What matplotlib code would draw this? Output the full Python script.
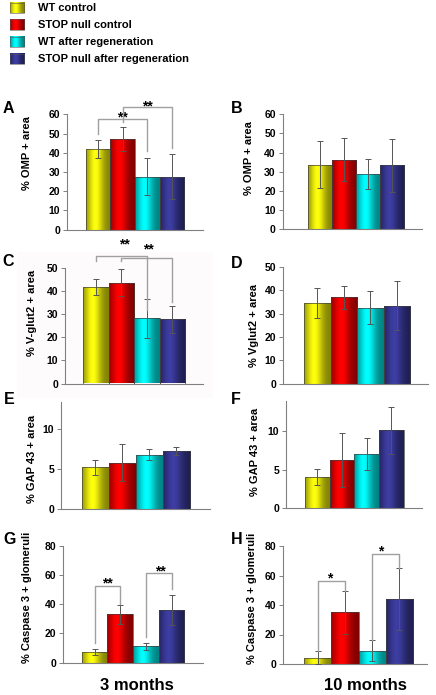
import numpy as np
import matplotlib
matplotlib.use("Agg")
import matplotlib.pyplot as plt
from matplotlib.patches import Rectangle
from matplotlib import transforms

plt.rcParams['font.family'] = ['Liberation Sans', 'DejaVu Sans']
plt.rcParams['font.weight'] = 'bold'

# ---------------- data ----------------
groups = ["WT control", "STOP null control", "WT after regeneration", "STOP null after regeneration"]
bar_colors = [(1.0, 1.0, 0.05), (1.0, 0.0, 0.0), (0.0, 1.0, 1.0), (0.24, 0.24, 0.64)]

omp_3m = [41.8, 47.2, 27.6, 27.6]
omp_3m_err = [4.7, 6.2, 9.7, 11.6]
omp_10m = [33.8, 36.2, 28.8, 33.5]
omp_10m_err = [12.1, 11.2, 7.9, 13.8]
vglut_3m = [41.6, 43.6, 28.1, 27.7]
vglut_3m_err = [3.5, 5.8, 8.6, 5.8]
vglut_10m = [34.7, 37.0, 32.6, 33.3]
vglut_10m_err = [6.4, 4.8, 7.0, 10.5]
gap_3m = [5.2, 5.8, 6.8, 7.24]
gap_3m_err = [1.0, 2.35, 0.7, 0.52]
gap_10m = [4.06, 6.3, 7.07, 10.17]
gap_10m_err = [1.02, 3.5, 2.13, 3.05]
casp_3m = [7.1, 33.1, 11.2, 36.0]
casp_3m_err = [2.05, 6.6, 2.25, 10.2]
casp_10m = [4.3, 35.0, 9.0, 43.9]
casp_10m_err = [4.3, 14.4, 7.2, 21.0]

ylabels = ["% OMP + area", "% OMP + area", "% V-glut2 + area", "% Vglut2 + area",
           "% GAP 43 + area", "% GAP 43 + area", "% Caspase 3 + glomeruli", "% Caspase 3 + glomeruli"]
panel_letters = ["A", "B", "C", "D", "E", "F", "G", "H"]
yticks = [[0, 10, 20, 30, 40, 50, 60]] * 2 + [[0, 10, 20, 30, 40, 50]] * 2 + [[0, 5, 10]] * 2 + [[0, 20, 40, 60, 80]] * 2
ylims = [60, 60, 50, 50, 13.5, 14, 80, 80]
xlabels = ["3 months", "10 months"]

# significance brackets: (panel, bar i, bar j, top, leg_i bottom, leg_j bottom, label, label x, label y)
brackets = [
    (0, 0, 2, 57.7, 50.0, 41.0, "**", 1.0, 59.9),
    (0, 1, 3, 63.9, 56.0, 42.5, "**", 2.0, 65.6),
    (2, 0, 2, 55.1, 53.0, 31.7, "**", 1.12, 61.1),
    (2, 1, 3, 54.0, 52.8, 35.3, "**", 2.08, 59.0),
    (6, 0, 1, 52.6, 13.2, 40.0, "**", 0.5, 56.1),
    (6, 2, 3, 61.3, 17.8, 50.2, "**", 2.55, 64.5),
    (7, 0, 1, 56.1, 8.6, 49.4, "*", 0.45, 59.7),
    (7, 2, 3, 74.6, 16.3, 65.0, "*", 2.32, 78.0),
]

panels = [(omp_3m, omp_3m_err), (omp_10m, omp_10m_err), (vglut_3m, vglut_3m_err), (vglut_10m, vglut_10m_err),
          (gap_3m, gap_3m_err), (gap_10m, gap_10m_err), (casp_3m, casp_3m_err), (casp_10m, casp_10m_err)]

# ---------------- layout (pixels) ----------------
W, H = 436, 695
# left, top, right, bottom
ax_px = [(67, 114.3, 203, 229.7), (282.7, 114.3, 421.7, 229.3),
         (65, 267.7, 202.7, 383.5), (283, 267, 428, 383.6),
         (61, 401.7, 210, 508.7), (286, 400.7, 421.7, 508.3),
         (63.3, 545.7, 203.3, 662.7), (283, 546, 426.7, 664)]
xlims = [(-1.27, 4.27), (-1.53, 4.22), (-1.22, 4.2), (-1.3, 4.17),
         (-1.26, 4.24), (-1.27, 4.23), (-1.22, 4.24), (-1.29, 4.02)]
letter_px = [(3, 113), (231, 113), (2.5, 265.5), (231, 267.5), (4, 403.5), (231, 403.5), (3, 543.5), (231, 543.5)]
ylabel_px = [(26.7, 153.3), (249.3, 158.3), (32, 312.7), (253.8, 325.8),
             (32.2, 459), (255.3, 451.7), (27.5, 597.5), (252, 598.8)]
xlabel_px = [(136.7, 686), (365.8, 686)]

fig = plt.figure(figsize=(W / 100, H / 100), dpi=100)

# overlay axes in pixel coordinates
ov = fig.add_axes([0, 0, 1, 1])
ov.set_xlim(0, W)
ov.set_ylim(H, 0)
ov.axis('off')
ov.set_zorder(-1)


def shade_img(color, n=64):
    t = np.linspace(0, 1, n)
    f = 0.5 + 0.5 * np.exp(-((t - 0.38) / 0.32) ** 2)
    f = np.minimum(f, 1.0)
    c = np.array(color)[None, :] * f[:, None]
    return c[None, :, :]


# faint background of panel C
ov.add_patch(Rectangle((17, 252), 196, 146, facecolor='#fefbfc', edgecolor='none'))

# legend
leg_y = [8, 24.7, 42.2, 58.8]
for g, c, yc in zip(groups, bar_colors, leg_y):
    r = Rectangle((10, yc - 5.3), 14.3, 10.6, facecolor='none', edgecolor='#555555', lw=0.4, zorder=3)
    ov.add_patch(r)
    im = ov.imshow(shade_img(c), extent=[10, 24.3, yc + 5.3, yc - 5.3], aspect='auto', interpolation='bilinear', zorder=2)
    ov.text(38.3, yc, g, fontsize=8, fontweight='bold', va='center', ha='left')

ov.set_xlim(0, W)
ov.set_ylim(H, 0)

axes = []
for k, ((vals, errs), (l, t, r, b)) in enumerate(zip(panels, ax_px)):
    ax = fig.add_axes([l / W, 1 - b / H, (r - l) / W, (b - t) / H])
    ax.set_facecolor('none')
    x = np.arange(len(vals))
    bars = ax.bar(x, vals, width=1.0, facecolor='none', edgecolor='#404040', lw=0.5, zorder=3)
    for p, c in zip(bars.patches, bar_colors):
        x0, w_, h_ = p.get_x(), p.get_width(), p.get_height()
        im = ax.imshow(shade_img(c), extent=[x0, x0 + w_, 0, h_], aspect='auto', interpolation='bilinear', zorder=2)
        im.set_clip_path(p)
    ax.errorbar(x, vals, yerr=errs, fmt='none', ecolor='#555555', elinewidth=0.7, capsize=2, capthick=0.7, zorder=4)
    ax.set_xlim(*xlims[k])
    ax.set_ylim(0, ylims[k])
    ax.set_yticks(yticks[k])
    ax.set_xticks([])
    for s in ['top', 'right']:
        ax.spines[s].set_visible(False)
    for s in ['left', 'bottom']:
        ax.spines[s].set_color('#808080')
        ax.spines[s].set_linewidth(0.8)
    ax.tick_params(axis='y', direction='out', length=3, width=0.7, color='#808080', labelsize=7.5, pad=2)
    for lab in ax.get_yticklabels():
        lab.set_fontweight('bold')
    axes.append(ax)

    lx, ly = letter_px[k]
    ov.text(lx, ly, panel_letters[k], fontsize=11.5, fontweight='bold', ha='left', va='baseline')
    yx, yy = ylabel_px[k]
    ov.text(yx, yy, ylabels[k], fontsize=8, fontweight='bold', rotation=90, ha='center', va='center')

for (k, i, j, top, bi, bj, lab, sx, sy) in brackets:
    ax = axes[k]
    ax.plot([i, i, j, j], [bi, top, top, bj], color='#a0a0a0', lw=1.0, clip_on=False, zorder=5)
    tr = transforms.offset_copy(ax.transData, fig=fig, y=-5, units='points')
    ax.text(sx, sy, lab, fontsize=10, fontweight='bold', ha='center', va='baseline', transform=tr, clip_on=False)

for txt, (xx, yy) in zip(xlabels, xlabel_px):
    ov.text(xx, yy, txt, fontsize=12, fontweight='bold', ha='center', va='center')

fig.savefig("out.png", dpi=100)
